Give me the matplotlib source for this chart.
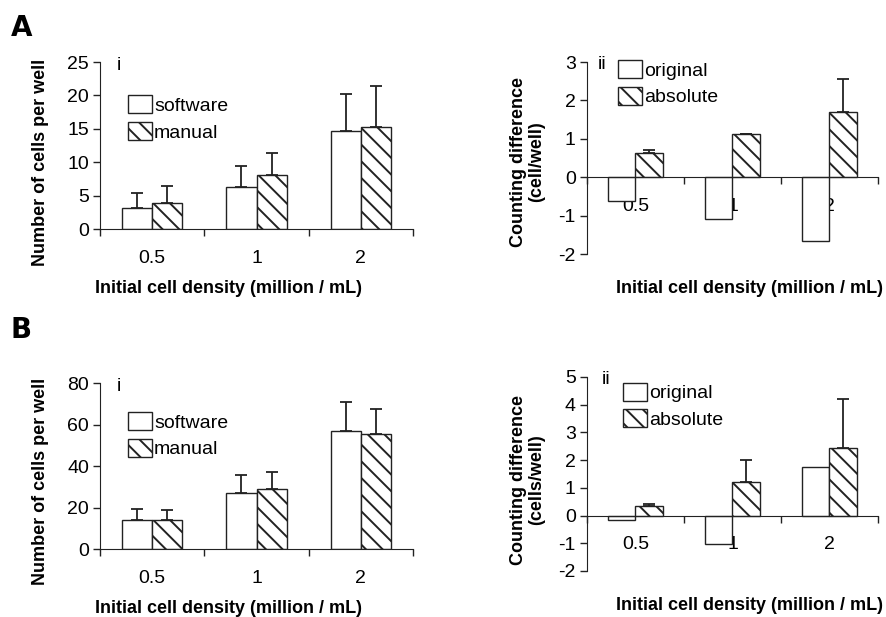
import matplotlib
matplotlib.use("Agg")
import matplotlib.pyplot as plt
import numpy as np

# data
densities = ["0.5", "1", "2"]

a_software = [3.2, 6.3, 14.7]
a_software_err = [2.2, 3.2, 5.5]
a_manual = [3.9, 8.1, 15.3]
a_manual_err = [2.6, 3.3, 6.1]

a_original = [-0.63, -1.08, -1.66]
a_absolute = [0.62, 1.12, 1.71]
a_absolute_err = [0.09, 0.0, 0.86]

b_software = [13.9, 27.1, 56.9]
b_software_err = [5.3, 8.5, 13.9]
b_manual = [13.9, 28.7, 55.3]
b_manual_err = [4.7, 8.3, 12.3]

b_original = [-0.17, -1.03, 1.75]
b_absolute = [0.34, 1.22, 2.45]
b_absolute_err = [0.08, 0.80, 1.76]

plt.rcParams["font.family"] = ["Liberation Sans", "DejaVu Sans"]
plt.rcParams["hatch.linewidth"] = 1.4
plt.rcParams["hatch.color"] = "black"

EDGE = "#222222"
TICK_FS = 14
LAB_FS = 13


def draw_panel(ax, vals1, err1, vals2, err2, names, ylim, yticks, roman,
               ylabel, legend_xy, roman_x, width, ylab_xy, xlab_xy):
    x = np.arange(len(densities)) + 0.5
    ax.bar(x - width / 2, vals1, width, color="white", edgecolor=EDGE,
           linewidth=1.0, label=names[0], zorder=2)
    ax.bar(x + width / 2, vals2, width, color="white", edgecolor=EDGE,
           linewidth=1.0, hatch="\\\\", label=names[1], zorder=2)
    # only upward error bars, and only where the bar is positive
    for xs, v, e in ((x - width / 2, vals1, err1), (x + width / 2, vals2, err2)):
        if e is None:
            continue
        ax.errorbar(xs, v, yerr=[np.zeros(len(e)), e], fmt="none",
                    ecolor=EDGE, elinewidth=1.3, capsize=4.5, capthick=1.3,
                    zorder=3)

    ax.set_xlim(0, len(densities))
    ax.set_ylim(*ylim)
    ax.set_yticks(yticks)
    ax.set_yticklabels([str(t) for t in yticks])
    ax.set_xticks(x)
    ax.set_xticklabels(densities)
    ax.set_xticks(np.arange(len(densities) + 1), minor=True)
    ax.tick_params(axis="x", which="major", length=0, pad=15,
                   labelsize=TICK_FS)
    ax.tick_params(axis="x", which="minor", length=5, width=1.0,
                   direction="out", color=EDGE)
    ax.tick_params(axis="y", length=5, width=1.0, direction="out",
                   labelsize=TICK_FS, pad=3, color=EDGE)

    for s in ("top", "right"):
        ax.spines[s].set_visible(False)
    ax.spines["left"].set_color(EDGE)
    ax.spines["bottom"].set_color(EDGE)
    ax.spines["bottom"].set_position(("data", 0))
    ax.spines["left"].set_bounds(ylim[0], ylim[1])

    ax.set_ylabel(ylabel, fontsize=LAB_FS, fontweight="bold", linespacing=1.1)
    ax.yaxis.set_label_coords(*ylab_xy)
    ax.set_xlabel("Initial cell density (million / mL)", fontsize=LAB_FS,
                  fontweight="bold")
    ax.xaxis.set_label_coords(*xlab_xy)

    ax.text(roman_x, 1.03, roman, transform=ax.transAxes, fontsize=TICK_FS,
            va="top", ha="left")
    ax.legend(loc="upper left", bbox_to_anchor=legend_xy, frameon=False,
              fontsize=TICK_FS, borderpad=0, borderaxespad=0,
              handlelength=1.25, handleheight=1.05, handletextpad=0.1,
              labelspacing=0.35)


fig = plt.figure(figsize=(8.86, 6.17), dpi=100)

ax1 = fig.add_axes([0.1129, 0.6288, 0.3533, 0.2707])
draw_panel(ax1, a_software, a_software_err, a_manual, a_manual_err,
           ["software", "manual"], (0, 25), [0, 5, 10, 15, 20, 25], "i",
           "Number of cells per well", (0.089, 0.80), 0.054, 0.29,
           (-0.163, 0.40), (0.41, -0.305))

ax2 = fig.add_axes([0.6625, 0.5883, 0.3284, 0.3112])
draw_panel(ax2, a_original, None, a_absolute, a_absolute_err,
           ["original", "absolute"], (-2, 3), [-2, -1, 0, 1, 2, 3], "ii",
           "Counting difference\n(cell/well)", (0.107, 1.01), 0.038, 0.28,
           (-0.144, 0.48), (0.56, -0.135))

ax3 = fig.add_axes([0.1129, 0.1102, 0.3533, 0.2690])
draw_panel(ax3, b_software, b_software_err, b_manual, b_manual_err,
           ["software", "manual"], (0, 80), [0, 20, 40, 60, 80], "i",
           "Number of cells per well", (0.089, 0.825), 0.054, 0.29,
           (-0.163, 0.41), (0.41, -0.307))

ax4 = fig.add_axes([0.6625, 0.0746, 0.3284, 0.3144])
draw_panel(ax4, b_original, None, b_absolute, b_absolute_err,
           ["original", "absolute"], (-2, 5), [-2, -1, 0, 1, 2, 3, 4, 5], "ii",
           "Counting difference\n(cells/well)", (0.124, 0.97), 0.052, 0.28,
           (-0.144, 0.47), (0.56, -0.134))

for letter, y in (("A", 0.955), ("B", 0.465)):
    fig.text(0.012, y, letter, fontsize=20, fontweight="bold",
             family=["Liberation Sans Narrow", "DejaVu Sans"],
             va="center", ha="left")

fig.savefig("out.png", dpi=100)
